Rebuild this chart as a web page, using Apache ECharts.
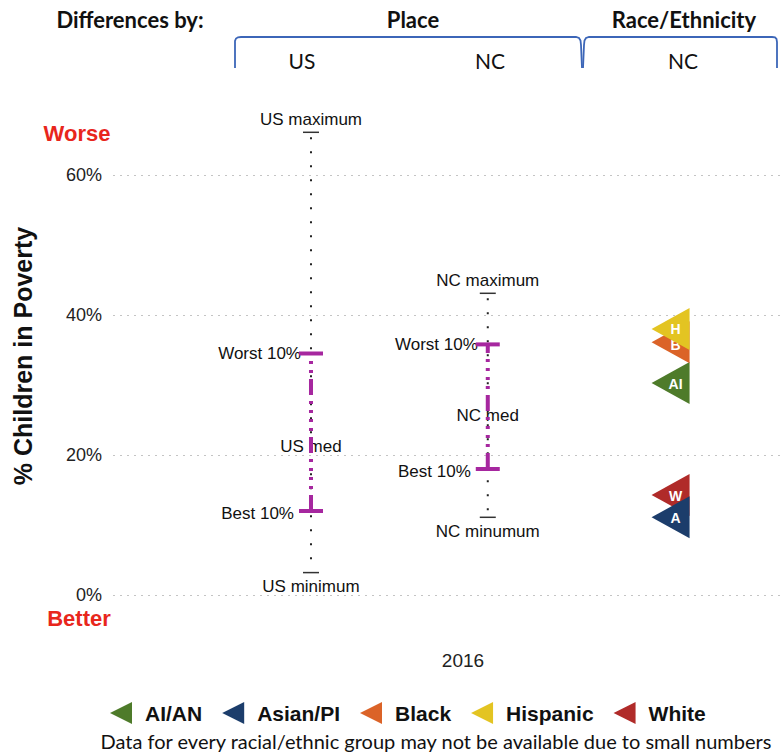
<!DOCTYPE html>
<html>
<head>
<meta charset="utf-8">
<script src="https://cdn.jsdelivr.net/npm/echarts@6/dist/echarts.min.js"></script>
<style>
  html, body { margin: 0; padding: 0; background: #fff; }
  #chart { width: 783px; height: 755px; }
</style>
</head>
<body>
<div id="chart"></div>
<script>
// columns on the x axis: two place columns and the race/ethnicity column
var columns = ['US', 'NC', 'NC race'];

// place ranges (% children in poverty)
var places = ['US', 'NC'];
var placeMax = [66.1, 43.1];
var placeWorst10 = [34.5, 35.8];
var placeMed = [21.2, 25.6];
var placeBest10 = [12.0, 18.0];
var placeMin = [3.2, 11.1];
var maxLabels = ['US maximum', 'NC maximum'];
var medLabels = ['US med', 'NC med'];
var minLabels = ['US minimum', 'NC minumum'];

// race / ethnicity values for NC
var groups = ['AI/AN', 'Asian/PI', 'Black', 'Hispanic', 'White'];
var groupCodes = ['AI', 'A', 'B', 'H', 'W'];
var groupValues = [30.3, 11.1, 36.1, 38.0, 14.3];

var yTicks = [0, 20, 40, 60];
var year = '2016';

(function() {
  var sans = 'Liberation Sans, Arial, sans-serif';
  var calib = 'Lato, Open Sans, sans-serif';
  var magenta = '#a6279f';
  var red = '#e8261c';
  var bracket = '#3c66b8';
  var groupColors = ['#4e7b2a', '#1c3d6b', '#db6328', '#e3c422', '#b02b29'];
  var groupZ = [2, 4, 2, 4, 3];
  // Black's letter sits a little lower, it peeks out under the Hispanic marker
  var labelDy = [1, 1, 3, 0, 1];
  var tri = 'path://M0,50 L100,0 L100,100 Z';

  var placeData = places.map(function(p, i) {
    return [columns.indexOf(p) + 1, placeMax[i], placeWorst10[i], placeMed[i], placeBest10[i], placeMin[i]];
  });
  var raceX = columns.indexOf('NC race') + 1;

  function label(t, x, y, align) {
    return {
      type: 'text',
      style: {
        text: t, x: x, y: y, textAlign: align, textVerticalAlign: 'middle',
        fontSize: 17, fontFamily: sans, fill: '#111'
      }
    };
  }

  function renderPlace(params, api) {
    var i = params.dataIndex;
    var x = api.value(0);
    var top = api.coord([x, api.value(1)]);
    var worst = api.coord([x, api.value(2)]);
    var med = api.coord([x, api.value(3)]);
    var best = api.coord([x, api.value(4)]);
    var bottom = api.coord([x, api.value(5)]);
    var cx = top[0];
    return {
      type: 'group',
      children: [
        label(maxLabels[i], cx, top[1] - 13, 'center'),
        label('Worst 10%', cx - 10, worst[1], 'right'),
        label(medLabels[i], cx, med[1], 'center'),
        label('Best 10%', cx - 17, best[1] + 2, 'right'),
        label(minLabels[i], cx, bottom[1] + 14, 'center'),
        {
          type: 'line',
          shape: { x1: cx, y1: top[1] + 5, x2: cx, y2: bottom[1] - 5 },
          style: { stroke: '#222', lineWidth: 2, lineDash: [2, 12] }
        },
        {
          type: 'line',
          shape: { x1: cx - 8, y1: top[1], x2: cx + 8, y2: top[1] },
          style: { stroke: '#333', lineWidth: 1.5 }
        },
        {
          type: 'line',
          shape: { x1: cx - 8, y1: bottom[1], x2: cx + 8, y2: bottom[1] },
          style: { stroke: '#333', lineWidth: 1.5 }
        },
        {
          type: 'line',
          shape: { x1: cx, y1: best[1], x2: cx, y2: worst[1] },
          style: { stroke: magenta, lineWidth: 4, lineDash: [16, 6, 3, 6, 3, 6, 3, 6, 3, 6] }
        },
        {
          type: 'line',
          shape: { x1: cx - 12, y1: worst[1], x2: cx + 12, y2: worst[1] },
          style: { stroke: magenta, lineWidth: 4 }
        },
        {
          type: 'line',
          shape: { x1: cx - 12, y1: best[1], x2: cx + 12, y2: best[1] },
          style: { stroke: magenta, lineWidth: 4 }
        }
      ]
    };
  }

  var series = [{
    type: 'custom',
    renderItem: renderPlace,
    data: placeData,
    encode: { x: 0, y: [1, 2, 3, 4, 5] },
    clip: false,
    silent: true,
    z: 1
  }];

  groups.forEach(function(g, i) {
    series.push({
      name: g,
      type: 'scatter',
      z: groupZ[i],
      data: [[raceX, groupValues[i]]],
      symbol: tri,
      symbolSize: [38, 42],
      symbolOffset: [6, 0],
      itemStyle: { color: groupColors[i], opacity: 1 },
      label: {
        show: true,
        formatter: groupCodes[i],
        position: 'inside',
        offset: [5, labelDy[i]],
        color: '#fff',
        fontWeight: 'bold',
        fontSize: 14,
        fontFamily: sans
      },
      silent: true
    });
  });

  function txt(t, x, y, size, weight, color, family, align) {
    return {
      type: 'text',
      style: {
        text: t, x: x, y: y, fontSize: size, fontWeight: weight, fill: color,
        fontFamily: family, textAlign: align || 'center', textVerticalAlign: 'middle'
      }
    };
  }

  function bracketLine(pts) {
    return { type: 'polyline', shape: { points: pts }, style: { stroke: bracket, lineWidth: 1.8, fill: null } };
  }

  var chart = echarts.init(document.getElementById('chart'), null, { renderer: 'svg' });
  chart.setOption({
    animation: false,
    backgroundColor: '#fff',
    grid: { left: 113, right: 0, top: 175, bottom: 160, containLabel: false },
    xAxis: { type: 'value', min: -0.12, max: 3.67, show: false },
    yAxis: {
      type: 'value',
      min: yTicks[0],
      max: yTicks[yTicks.length - 1],
      interval: yTicks[1] - yTicks[0],
      axisLine: { show: false },
      axisTick: { show: false },
      splitLine: { lineStyle: { color: '#c4c4c4', type: [2, 5], width: 1 } },
      axisLabel: { formatter: '{value}%', fontSize: 18, color: '#222', fontFamily: sans, margin: 11 },
      name: '% Children in Poverty',
      nameLocation: 'middle',
      nameGap: 78,
      nameTextStyle: { fontSize: 25, fontWeight: 'bold', color: '#111', fontFamily: sans, padding: [0, 0, 0, 58] }
    },
    legend: {
      data: groups,
      top: 697,
      left: 105,
      icon: tri,
      itemWidth: 22,
      itemHeight: 24,
      itemGap: 20,
      textStyle: { fontSize: 21, fontWeight: 'bold', color: '#111', fontFamily: sans, padding: [0, 0, 0, 8] }
    },
    graphic: [
      txt('Differences by:', 130, 19, 22, 'bold', '#111', calib),
      txt('Place', 413, 19, 22, 'bold', '#111', calib),
      txt('Race/Ethnicity', 684, 19, 22, 'bold', '#111', calib),
      txt('US', 302, 60, 21, 'normal', '#111', calib),
      txt('NC', 490, 60, 21, 'normal', '#111', calib),
      txt('NC', 683, 60, 21, 'normal', '#111', calib),
      bracketLine([[235, 68], [235, 41], [236, 38.5], [238, 37.3], [241, 37], [576, 37], [579, 38], [580.5, 40.5], [581, 45], [582, 68]]),
      bracketLine([[583, 68], [584, 45], [584.5, 40.5], [586, 38], [589, 37], [772, 37], [775, 37.4], [776.5, 39], [777, 42], [777, 68]]),
      txt('Worse', 77, 133, 22, 'bold', red, sans),
      txt('Better', 79, 618, 22, 'bold', red, sans),
      txt(year, 463, 660, 19, 'normal', '#222', sans),
      txt('Data for every racial/ethnic group may not be available due to small numbers', 436, 741, 20, 'normal', '#111', calib)
    ],
    series: series
  });
  window.addEventListener('resize', function() { chart.resize(); });
})();
</script>
</body>
</html>
